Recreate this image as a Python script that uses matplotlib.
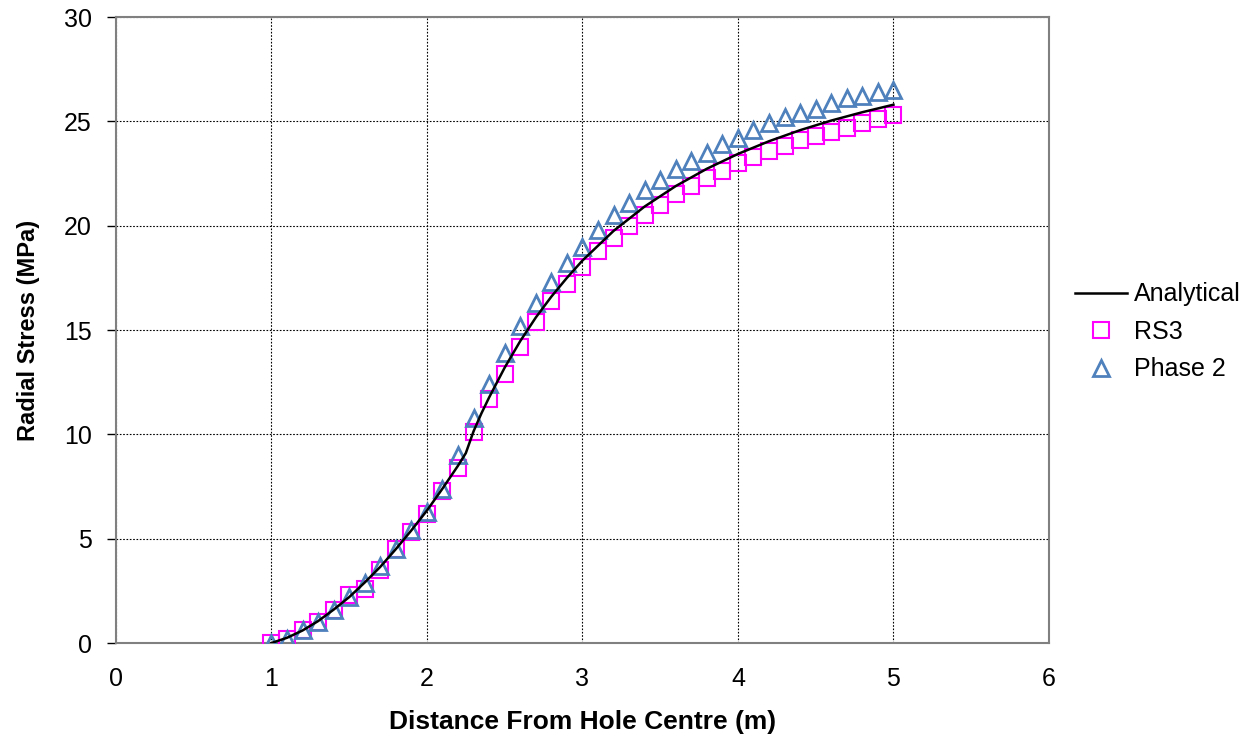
import matplotlib.pyplot as plt

plt.rcParams['font.family'] = ['Liberation Sans', 'DejaVu Sans']

# analytical solution
ana_x = [1.0, 1.1, 1.2, 1.3, 1.4, 1.5, 1.6, 1.7, 1.8, 1.9, 2.0, 2.1, 2.2, 2.25,
         2.3, 2.35, 2.4, 2.5, 2.6, 2.7, 2.8, 2.9, 3.0, 3.2, 3.4, 3.6, 3.8,
         4.0, 4.2, 4.4, 4.6, 4.8, 5.0]
ana_y = [0.0, 0.25, 0.6, 1.05, 1.6, 2.2, 2.9, 3.65, 4.5, 5.4, 6.35, 7.4, 8.5, 9.1,
         10.15, 11.0, 11.77, 13.2, 14.47, 15.6, 16.6, 17.5, 18.33, 19.75, 20.92, 21.9, 22.73,
         23.44, 24.05, 24.58, 25.04, 25.44, 25.8]

# numerical results, r = 1.0 ... 5.0 step 0.1
dist = [1.0, 1.1, 1.2, 1.3, 1.4, 1.5, 1.6, 1.7, 1.8, 1.9,
        2.0, 2.1, 2.2, 2.3, 2.4, 2.5, 2.6, 2.7, 2.8, 2.9,
        3.0, 3.1, 3.2, 3.3, 3.4, 3.5, 3.6, 3.7, 3.8, 3.9,
        4.0, 4.1, 4.2, 4.3, 4.4, 4.5, 4.6, 4.7, 4.8, 4.9, 5.0]
rs3 = [0.0, 0.2, 0.6, 1.0, 1.6, 2.3, 2.6, 3.5, 4.5, 5.3,
       6.2, 7.3, 8.4, 10.1, 11.7, 12.9, 14.2, 15.4, 16.4, 17.2,
       18.0, 18.8, 19.4, 20.0, 20.5, 21.0, 21.5, 21.9, 22.3, 22.6,
       23.0, 23.3, 23.6, 23.8, 24.1, 24.3, 24.5, 24.7, 24.9, 25.1, 25.3]
phase2 = [0.0, 0.2, 0.6, 1.0, 1.6, 2.2, 2.9, 3.7, 4.5, 5.4,
          6.3, 7.4, 9.0, 10.8, 12.4, 13.9, 15.2, 16.3, 17.3, 18.2,
          19.0, 19.8, 20.5, 21.1, 21.7, 22.2, 22.7, 23.1, 23.5, 23.9,
          24.2, 24.6, 24.9, 25.2, 25.4, 25.6, 25.9, 26.1, 26.2, 26.4, 26.5]

fig = plt.figure(figsize=(12.6, 7.42), dpi=100)
ax = fig.add_axes([0.092, 0.1334, 0.7405, 0.8436])

ax.plot(ana_x, ana_y, color='black', lw=1.8, label='Analytical', zorder=4)
ax.plot(dist, rs3, ls='none', marker='s', ms=11, mfc='none', mec='#FF00FF', mew=1.5,
        label='RS3', zorder=3)
ax.plot(dist, phase2, ls='none', marker='^', ms=12, mfc='none', mec='#4F81BD', mew=2,
        label='Phase 2', zorder=3)

ax.set_xlim(0, 6)
ax.set_ylim(0, 30)
ax.set_xticks(range(0, 7))
ax.set_yticks(range(0, 31, 5))
ax.grid(True, ls=(0, (1.5, 1.5)), color='black', lw=0.8)
ax.set_axisbelow(True)
for s in ax.spines.values():
    s.set_color('#808080')
    s.set_linewidth(1.5)
ax.tick_params(axis='y', length=6.5, width=1, color='black', labelsize=18, pad=11)
ax.tick_params(axis='x', length=0, labelsize=18, pad=17)

ax.set_xlabel('Distance From Hole Centre (m)', fontsize=19, fontweight='bold', labelpad=14)
ax.set_ylabel('Radial Stress (MPa)', fontsize=17, fontweight='bold', labelpad=17)

fig.legend(loc='center left', bbox_to_anchor=(0.853, 0.5526), frameon=False, fontsize=18,
           handlelength=2.1, handletextpad=0.25, labelspacing=0.54, borderaxespad=0,
           borderpad=0)

fig.savefig('out.png', dpi=100)
